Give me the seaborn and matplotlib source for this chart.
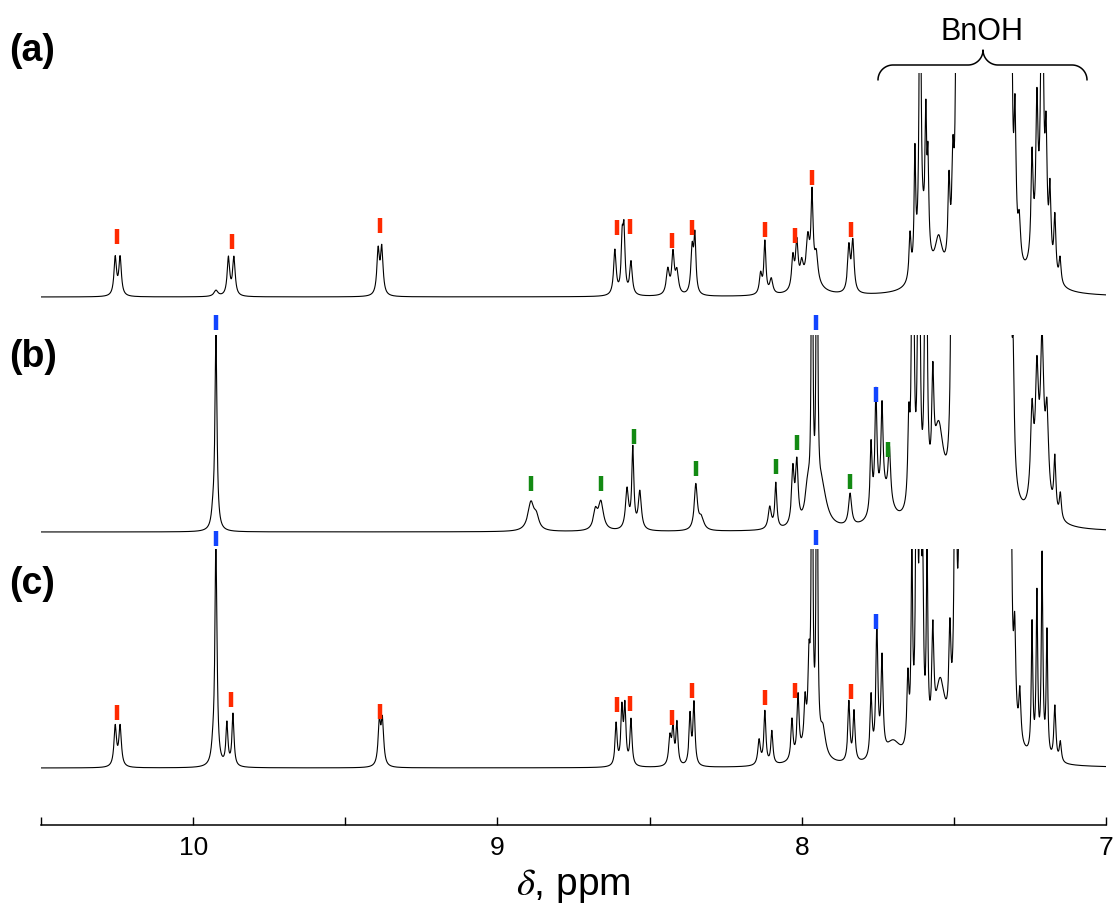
import numpy as np
import pandas as pd
import matplotlib
matplotlib.use("Agg")
import matplotlib.pyplot as plt
import seaborn as sns

# ------------------------------------------------------------------
# DATA
# Peak tables: position (ppm), apparent height (intensity units), half-width (ppm)
# ------------------------------------------------------------------
bnoh_core_ppm = [7.475, 7.460, 7.445, 7.430, 7.415, 7.400, 7.385, 7.370, 7.355, 7.340, 7.325]
bnoh_core_height = [1500] * 11
bnoh_core_width = [0.003] * 11

a_ppm = [10.256, 10.240, 9.925, 9.884, 9.866, 9.392, 9.380,
         8.614, 8.590, 8.584, 8.561, 8.440, 8.423, 8.410, 8.360, 8.351,
         8.135, 8.121, 8.100, 8.029, 8.016, 8.000, 7.980, 7.966, 7.952, 7.970,
         7.845, 7.832,
         7.644, 7.628, 7.611, 7.592, 7.585, 7.600, 7.550, 7.516, 7.503, 7.490,
         7.312, 7.299, 7.285, 7.243, 7.227, 7.210, 7.197, 7.184, 7.168, 7.151, 7.220]
a_height = [38, 38, 6, 38, 38, 44, 46,
            45, 50, 58, 33, 25, 40, 22, 45, 55,
            20, 52, 15, 32, 45, 20, 38, 80, 25, 18,
            45, 50,
            45, 115, 400, 120, 85, 50, 40, 80, 85, 500,
            400, 130, 40, 100, 130, 400, 110, 75, 60, 25, 45]
a_width = [0.005, 0.005, 0.008, 0.005, 0.005, 0.005, 0.005,
           0.005, 0.004, 0.004, 0.005, 0.006, 0.005, 0.006, 0.005, 0.004,
           0.005, 0.004, 0.006, 0.005, 0.005, 0.006, 0.006, 0.004, 0.006, 0.030,
           0.005, 0.005,
           0.004, 0.003, 0.003, 0.003, 0.003, 0.020, 0.015, 0.004, 0.004, 0.003,
           0.003, 0.004, 0.005, 0.004, 0.004, 0.004, 0.004, 0.004, 0.004, 0.004, 0.025]

b_ppm = [9.925, 9.935, 8.890, 8.872, 8.678, 8.660, 8.574, 8.555, 8.532,
         8.348, 8.330, 8.105, 8.085, 8.029, 8.016,
         7.980, 7.966, 7.950, 7.935, 7.841,
         7.772, 7.756, 7.736, 7.712, 7.730,
         7.648, 7.635, 7.615, 7.592, 7.569, 7.550, 7.506, 7.490,
         7.316, 7.305, 7.243, 7.227, 7.210, 7.194, 7.168, 7.150, 7.210]
b_height = [195, 12, 28, 12, 18, 28, 40, 80, 38,
            45, 12, 22, 45, 55, 60,
            35, 600, 600, 40, 32,
            70, 115, 90, 55, 30,
            80, 600, 600, 600, 100, 85, 500, 1500,
            400, 100, 90, 115, 140, 80, 55, 25, 35]
b_width = [0.004, 0.006, 0.012, 0.010, 0.008, 0.010, 0.006, 0.004, 0.006,
           0.006, 0.010, 0.006, 0.004, 0.005, 0.005,
           0.010, 0.002, 0.002, 0.020, 0.006,
           0.004, 0.004, 0.004, 0.005, 0.030,
           0.004, 0.003, 0.003, 0.003, 0.004, 0.020, 0.003, 0.003,
           0.003, 0.004, 0.006, 0.006, 0.006, 0.006, 0.004, 0.004, 0.025]

c_ppm = [10.256, 10.240, 9.925, 9.935, 9.889, 9.869, 9.388, 9.378,
         8.610, 8.591, 8.581, 8.561, 8.433, 8.423, 8.410, 8.367, 8.354,
         8.140, 8.121, 8.098, 8.032, 8.012, 7.989, 7.976,
         7.966, 7.950, 7.930, 7.970, 7.845, 7.828,
         7.772, 7.753, 7.736, 7.700,
         7.651, 7.638, 7.622, 7.610, 7.602, 7.588, 7.569, 7.545, 7.513, 7.495,
         7.314, 7.300, 7.283, 7.243, 7.227, 7.210, 7.194, 7.168, 7.150]
c_height = [40, 40, 230, 12, 42, 52, 42, 44,
            42, 55, 57, 46, 28, 35, 42, 50, 62,
            25, 53, 33, 40, 60, 42, 70,
            600, 600, 25, 25, 60, 50,
            62, 130, 95, 20,
            70, 190, 500, 400, 140, 185, 100, 70, 90, 500,
            400, 90, 50, 130, 160, 200, 125, 55, 20]
c_width = [0.005, 0.005, 0.004, 0.006, 0.004, 0.004, 0.005, 0.005,
           0.004, 0.004, 0.004, 0.004, 0.005, 0.004, 0.004, 0.004, 0.004,
           0.005, 0.004, 0.004, 0.004, 0.004, 0.004, 0.004,
           0.002, 0.002, 0.010, 0.030, 0.004, 0.004,
           0.004, 0.004, 0.004, 0.030,
           0.004, 0.003, 0.003, 0.003, 0.003, 0.003, 0.004, 0.020, 0.004, 0.003,
           0.003, 0.004, 0.004, 0.003, 0.003, 0.003, 0.003, 0.004, 0.004]

# assignment markers: position (ppm) and level above baseline (intensity units)
a_red_ppm = [10.250, 9.872, 9.386, 8.607, 8.564, 8.426, 8.361, 8.121, 8.022, 7.966, 7.838]
a_red_level = [53, 48, 64, 62, 63, 49, 62, 60, 54, 112, 60]
b_blue_ppm = [9.925, 7.953, 7.756]
b_blue_level = [202, 202, 130]
b_green_ppm = [8.890, 8.660, 8.551, 8.348, 8.085, 8.016, 7.841, 7.717]
b_green_level = [41, 41, 88, 56, 58, 82, 43, 75]
c_blue_ppm = [9.925, 7.953, 7.756]
c_blue_level = [222, 223, 139]
c_red_ppm = [10.250, 9.876, 9.386, 8.607, 8.564, 8.426, 8.361, 8.121, 8.022, 7.838]
c_red_level = [48, 61, 49, 56, 57, 43, 70, 63, 70, 69]

panel_labels = ["(a)", "(b)", "(c)"]
x_ticks = [10, 9, 8, 7]
x_minor = [10.5, 9.5, 8.5, 7.5]
x_label = r"$\delta$, ppm"
bracket_label = "BnOH"

# ------------------------------------------------------------------
sns.set_style("white")
plt.rcParams["font.family"] = ["Liberation Sans", "DejaVu Sans"]
plt.rcParams["mathtext.fontset"] = "stix"
plt.rcParams["text.color"] = "black"
plt.rcParams["axes.labelcolor"] = "black"
plt.rcParams["xtick.color"] = "black"

W, H = 1116, 909
fig = plt.figure(figsize=(W / 100, H / 100), dpi=100)

grid = np.linspace(7.0, 10.5, 14001)


def spectrum(pos, hts, wds):
    pos = np.asarray(list(pos) + bnoh_core_ppm)
    hts = np.asarray(list(hts) + bnoh_core_height, dtype=float)
    wds = np.asarray(list(wds) + bnoh_core_width)
    return (hts[:, None] / (1 + ((grid[None, :] - pos[:, None]) / wds[:, None]) ** 2)).sum(0)


def rect(top_px, bottom_px):
    return [41 / W, 1 - bottom_px / H, (1106 - 41) / W, (bottom_px - top_px) / H]


RED, BLUE, GREEN = "#ff2a00", "#1245ff", "#138a13"

panels = [
    (rect(73, 320), (-23, 224), (a_ppm, a_height, a_width), [(a_red_ppm, a_red_level, RED)]),
    (rect(335, 555), (-23, 197), (b_ppm, b_height, b_width),
     [(b_blue_ppm, b_blue_level, BLUE), (b_green_ppm, b_green_level, GREEN)]),
    (rect(549, 795), (-27, 219), (c_ppm, c_height, c_width),
     [(c_blue_ppm, c_blue_level, BLUE), (c_red_ppm, c_red_level, RED)]),
]

for r, ylim, peaks, marks in panels:
    ax = fig.add_axes(r)
    ax.patch.set_alpha(0)
    df = pd.DataFrame({"ppm": grid, "I": spectrum(*peaks)})
    sns.lineplot(data=df, x="ppm", y="I", ax=ax, color="black", linewidth=0.8,
                 estimator=None, sort=False)
    for mp, ml, col in marks:
        ml = np.asarray(ml, dtype=float)
        ax.vlines(mp, ml, ml + 15, colors=col, linewidth=3.2, clip_on=False, zorder=5)
    ax.set_xlim(10.5, 7.0)
    ax.set_ylim(*ylim)
    ax.axis("off")

# x axis
axx = fig.add_axes([41 / W, 1 - 825 / H, (1106 - 41) / W, 0.0001])
axx.patch.set_alpha(0)
axx.set_xlim(10.5, 7.0)
axx.set_xticks(x_ticks)
axx.set_xticklabels([str(t) for t in x_ticks])
axx.set_xticks(x_minor, minor=True)
axx.set_yticks([])
for s in ["top", "left", "right"]:
    axx.spines[s].set_visible(False)
axx.spines["bottom"].set_linewidth(1.1)
axx.spines["bottom"].set_color("black")
axx.tick_params(axis="x", which="both", direction="in", length=6, width=1.0,
                color="black", labelcolor="black", labelsize=19, pad=8, bottom=True)
axx.set_xlabel(x_label, fontsize=28, labelpad=5, color="black")

# overlay for annotations (pixel coordinates)
ov = fig.add_axes([0, 0, 1, 1])
ov.set_xlim(0, W)
ov.set_ylim(H, 0)
ov.axis("off")
ov.patch.set_alpha(0)

for lab, ypx in zip(panel_labels, [51, 357, 584]):
    ov.text(9, ypx, lab, fontsize=27, fontweight="bold", ha="left", va="center", color="black")

ov.text(982, 40, bracket_label, fontsize=22, ha="center", va="baseline", color="black")

# curly brace
r_ = 15
t = np.linspace(0, np.pi / 2, 30)
xl, yl = 878, 80
xt, yt = 983, 50
xr = 1087
pts = []
pts += list(zip(xl + r_ - r_ * np.cos(t), yl - r_ * np.sin(t)))
pts += list(zip(xt - r_ + r_ * np.sin(t), yt + r_ * np.cos(t)))
pts += list(zip(xt + r_ - r_ * np.cos(t), yt + r_ * np.sin(t)))
pts += list(zip(xr - r_ + r_ * np.sin(t), yl - r_ * np.cos(t)))
pts = np.array(pts)
ov.plot(pts[:, 0], pts[:, 1], color="black", linewidth=1.1, solid_capstyle="round")

fig.savefig("out.png", dpi=100)
